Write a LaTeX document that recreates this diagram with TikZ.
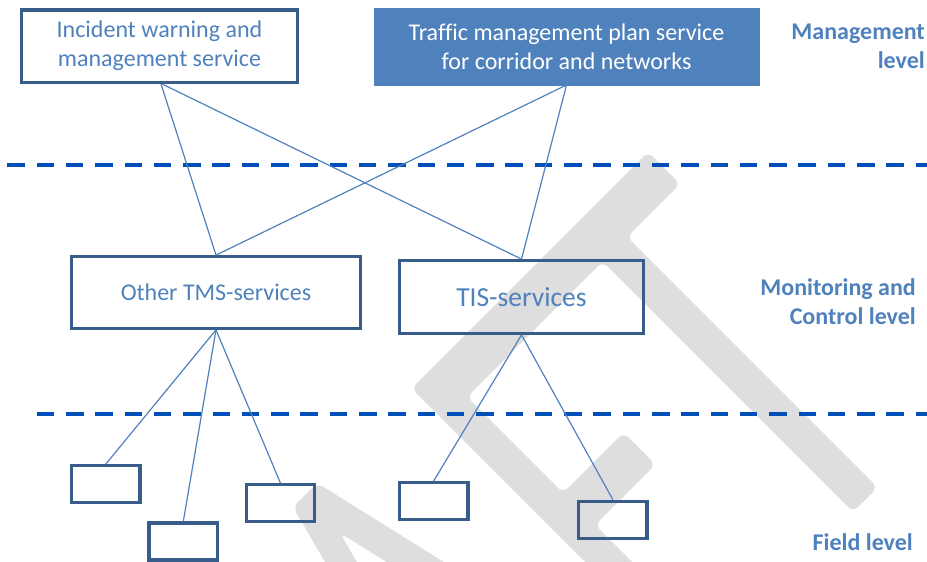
\documentclass[tikz,border=0pt]{standalone}
\usepackage{fontspec}
\setmainfont{Carlito}[Ligatures={NoCommon}]
\definecolor{boxborder}{RGB}{56,93,138}
\definecolor{accent}{RGB}{79,129,189}
\definecolor{dashblue}{RGB}{0,78,184}
\definecolor{wmgray}{RGB}{222,222,222}
\begin{document}
\begin{tikzpicture}[x=1pt,y=-1pt,
  svcbox/.style={draw=boxborder, line width=3.2pt, text=accent, align=center, inner sep=0pt,
                 font=\fontsize{24}{29}\selectfont},
  fieldbox/.style={draw=boxborder, line width=3.2pt, minimum width=68.5pt, minimum height=37pt, inner sep=0pt},
  planbox/.style={fill=accent, draw=accent, line width=0.4pt, text=white, align=center, inner sep=0pt,
                  font=\fontsize{24}{29}\selectfont},
  link/.style={draw=accent, line width=1.2pt},
  levelsep/.style={draw=dashblue, line width=4pt, dash pattern=on 17.5pt off 11.8pt},
  levellabel/.style={text=accent, font=\bfseries\fontsize{24}{29}\selectfont, align=right, anchor=east, inner sep=0pt},
  wm/.style={fill=wmgray, rounded corners=7pt}
]
\useasboundingbox (0,0) rectangle (927,562);

% watermark
\begin{scope}
\clip (0,0) rectangle (927,562);
\fill[wm] (411.5,388.5) -- (648,152) -- (680,184) -- (627,237) -- (877.5,487.5) -- (853,512)
  -- (602.5,261.5) -- (467,397) -- (563,493) -- (623.5,432.5) -- (655.5,464.5) -- (595,525)
  -- (685,615) -- (661.5,638.5) -- cycle;
\fill[wm] (293,507) -- (317,483) -- (505,600) -- (448,600) -- (340,533) -- (379,600) -- (347,600) -- cycle;
\end{scope}

% level separators
\coordinate (s1a) at (7.3,165);
\coordinate (s1b) at (927,165);
\coordinate (s2a) at (36.7,413.7);
\coordinate (s2b) at (927,413.7);
\draw[levelsep] (s1a) -- (s1b);
\draw[levelsep] (s2a) -- (s2b);

% management level
\node[svcbox, minimum width=276.5pt, minimum height=72.3pt] (inc) at (159.5,46.2)
  {Incident warning and\\management service};
\node[planbox, minimum width=384.6pt, minimum height=77pt] (tmp) at (566.5,46.3)
  {Traffic management plan service\\for corridor and networks};

% monitoring and control level
\node[svcbox, minimum width=288.5pt, minimum height=71.6pt] (oth) at (216,292.5) {Other TMS-services};
\node[svcbox, minimum width=243.6pt, minimum height=72.6pt, font=\fontsize{27.5}{33}\selectfont] (tis) at (521.5,297) {TIS-services};

% field level
\node[fieldbox] (f1) at (105.8,484.2) {};
\node[fieldbox] (f2) at (183.3,541.5) {};
\node[fieldbox] (f3) at (280.5,503.3) {};
\node[fieldbox] (f4) at (433.7,501) {};
\node[fieldbox] (f5) at (612.8,519.6) {};

% connectors
\draw[link] ([xshift=1.5pt]inc.south) -- (oth.north);
\draw[link] ([xshift=2.5pt]inc.south) -- (tis.north);
\draw[link] (tmp.south) -- (oth.north);
\draw[link] (tmp.south) -- (tis.north);
\draw[link] (oth.south) -- (f1.north);
\draw[link] (oth.south) -- (f2.north);
\draw[link] (oth.south) -- (f3.north);
\draw[link] (tis.south) -- (f4.north);
\draw[link] (tis.south) -- (f5.north);

% level labels
\node[levellabel] (lm) at (925,46.5) {Management\\level};
\node[levellabel] (lc) at (916,301.5) {Monitoring and\\Control level};
\node[levellabel] (lf) at (913,541.7) {Field level};
\end{tikzpicture}
\end{document}
